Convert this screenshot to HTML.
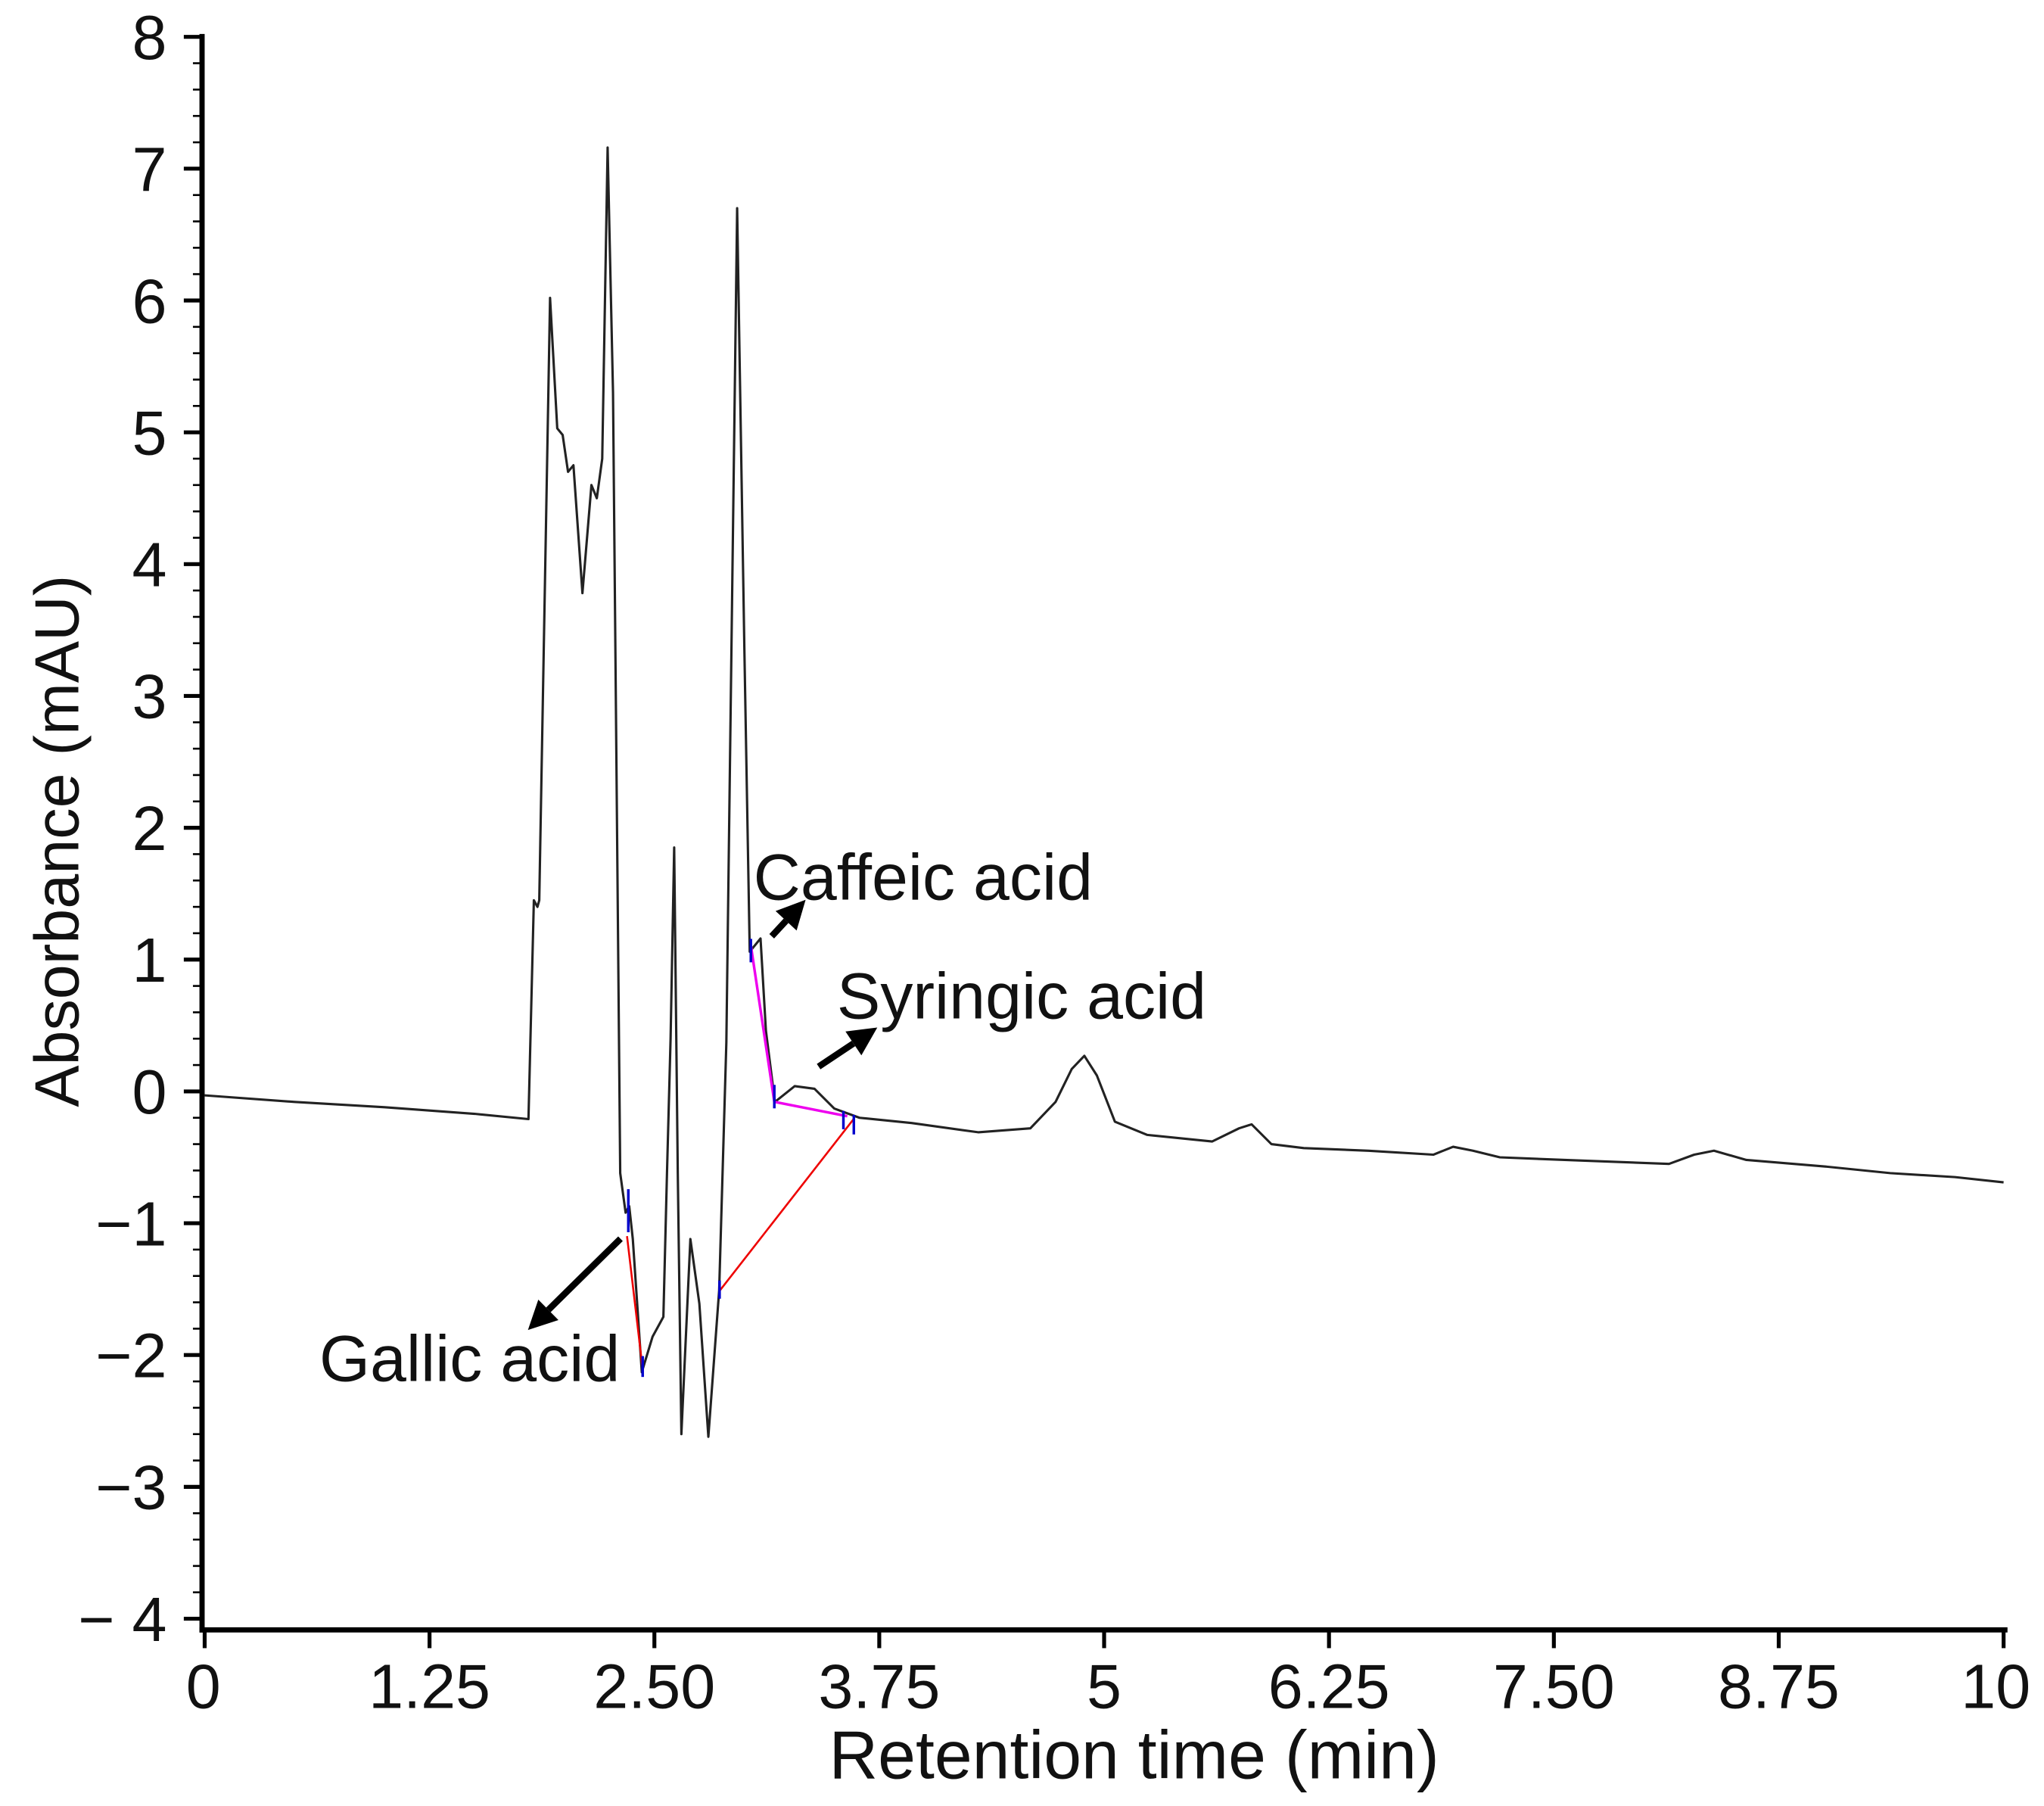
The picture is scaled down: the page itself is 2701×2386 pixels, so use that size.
<!DOCTYPE html>
<html><head><meta charset="utf-8"><style>
html,body{margin:0;padding:0;background:#fff;}
svg{display:block;}
text{font-family:"Liberation Sans",sans-serif;fill:#111;}
</style></head><body>
<svg id="chart" width="2701" height="2386" viewBox="0 0 1568 1385" xmlns="http://www.w3.org/2000/svg">
<g id="axes"></g>
<g id="trace"></g>
<g id="annot"></g>
</svg>
<script>
const times=[0,0.5,1.0,1.5,1.80,1.83,1.85,1.86,1.92,1.96,1.99,2.02,2.05,2.10,2.15,2.18,2.21,2.24,2.27,2.31,2.34,2.36,2.38,2.43,2.49,2.55,2.57,2.59,2.61,2.63,2.65,2.70,2.75,2.80,2.86,2.90,2.96,3.00,3.03,3.09,3.12,3.17,3.28,3.39,3.50,3.64,3.93,4.30,4.59,4.73,4.82,4.89,4.96,5.06,5.24,5.60,5.75,5.82,5.93,6.11,6.47,6.83,6.94,7.05,7.20,7.56,8.14,8.28,8.39,8.57,9.01,9.37,9.73,10];
const values=[-0.03,-0.08,-0.12,-0.17,-0.21,1.45,1.40,1.45,6.02,5.03,4.98,4.70,4.75,3.78,4.60,4.50,4.80,7.16,5.30,-0.62,-0.92,-0.87,-1.12,-2.13,-1.86,-1.71,-0.62,0.40,1.85,-0.62,-2.60,-1.12,-1.61,-2.62,-1.51,0.37,6.70,3.37,1.06,1.16,0.46,-0.08,0.04,0.02,-0.13,-0.20,-0.24,-0.31,-0.28,-0.08,0.17,0.27,0.12,-0.23,-0.33,-0.38,-0.28,-0.25,-0.40,-0.43,-0.45,-0.48,-0.42,-0.45,-0.50,-0.52,-0.55,-0.48,-0.45,-0.52,-0.57,-0.62,-0.65,-0.69];
const yTicks=[8,7,6,5,4,3,2,1,0,-1,-2,-3,-4];
const yTickLabels=["8","7","6","5","4","3","2","1","0","\u22121","\u22122","\u22123","\u2212 4"];
const xTicks=[0,1.25,2.5,3.75,5,6.25,7.5,8.75,10];
const xTickLabels=["0","1.25","2.50","3.75","5","6.25","7.50","8.75","10"];
const NS="http://www.w3.org/2000/svg";
const X=t=>157+t*138, Y=v=>837-v*101.1;
function mk(tag,attrs,parent,txt){const e=document.createElementNS(NS,tag);for(const k in attrs)e.setAttribute(k,attrs[k]);if(txt!==undefined)e.textContent=txt;parent.appendChild(e);return e;}
const ax=document.getElementById('axes');
let e=mk('line',{x1:155,y1:26,x2:155,y2:1252,stroke:'#000','stroke-width':4},ax);

e=mk('line',{x1:153,y1:1250,x2:1540,y2:1250,stroke:'#000','stroke-width':4},ax);

for(let v=-4;v<=8.001;v+=0.2){const major=Math.abs(v-Math.round(v))<0.01;
 e=mk('line',{x1:major?141:148,y1:Y(v),x2:155,y2:Y(v),stroke:'#000','stroke-width':major?3:1.5},ax);
 }
yTicks.forEach((v,i)=>{e=mk('text',{x:128,y:Y(v)+17,'text-anchor':'end','font-size':48},ax,yTickLabels[i]);
 });
xTicks.forEach((t,i)=>{e=mk('line',{x1:X(t),y1:1250,x2:X(t),y2:1264,stroke:'#000','stroke-width':3},ax);
 
 let lx=X(t); if(i===xTicks.length-1) lx-=6; if(i===0) lx-=1;
 e=mk('text',{x:lx,y:1310,'text-anchor':'middle','font-size':48},ax,xTickLabels[i]);
 });
e=mk('text',{x:870,y:1364,'text-anchor':'middle','font-size':52},ax,'Retention time (min)');

e=mk('text',{x:0,y:0,'text-anchor':'middle','font-size':48,transform:'translate(60,645) rotate(-90)'},ax,'Absorbance (mAU)');

const tr=document.getElementById('trace');
e=mk('polyline',{points:times.map((t,i)=>X(t)+','+Y(values[i])).join(' '),fill:'none',stroke:'#222','stroke-width':1.8,'stroke-linejoin':'round'},tr);

const an=document.getElementById('annot');
function ln(x1,y1,x2,y2,c,w,name){const l=mk('line',{x1,y1,x2,y2,stroke:c,'stroke-width':w},an);}
ln(481,948,493,1050,'#e00',1.5,'gallic-baseline');
ln(552,990,655,858,'#e00',1.5,'integration-baseline');
ln(576,725,594,845,'#e0e',2,'caffeic-baseline');
ln(594,845,650,856,'#e0e',2,'syringic-baseline');
[[482,912,482,945],[493,1040,493,1056],[552,982,552,996],[576,720,576,738],[594,832,594,850],[647,852,647,866],[655,855,655,870]].forEach(p=>ln(p[0],p[1],p[2],p[3],'#00c',2,'peak-marker'));
function arrow(x1,y1,x2,y2,name){const g=mk('g',{},an);
 const a=Math.atan2(y2-y1,x2-x1),L=22,W=11;const bx=x2-L*Math.cos(a),by=y2-L*Math.sin(a);
 mk('line',{x1,y1,x2:bx,y2:by,stroke:'#000','stroke-width':5},g);
 mk('polygon',{points:`${x2},${y2} ${bx+W*Math.sin(a)},${by-W*Math.cos(a)} ${bx-W*Math.sin(a)},${by+W*Math.cos(a)}`,fill:'#000'},g);}
arrow(476,950,405,1020,'gallic-arrow');
arrow(592,718,618,690,'caffeic-arrow');
arrow(628,818,673,788,'syringic-arrow');
function lbl(x,y,t,name,fs){const l=mk('text',{x,y,'font-size':fs},an,t);}
lbl(578,690,'Caffeic acid','caffeic-acid-label',50);
lbl(642,781,'Syringic acid','syringic-acid-label',50);
lbl(245,1059,'Gallic acid','gallic-acid-label',50);
</script>
</body></html>
